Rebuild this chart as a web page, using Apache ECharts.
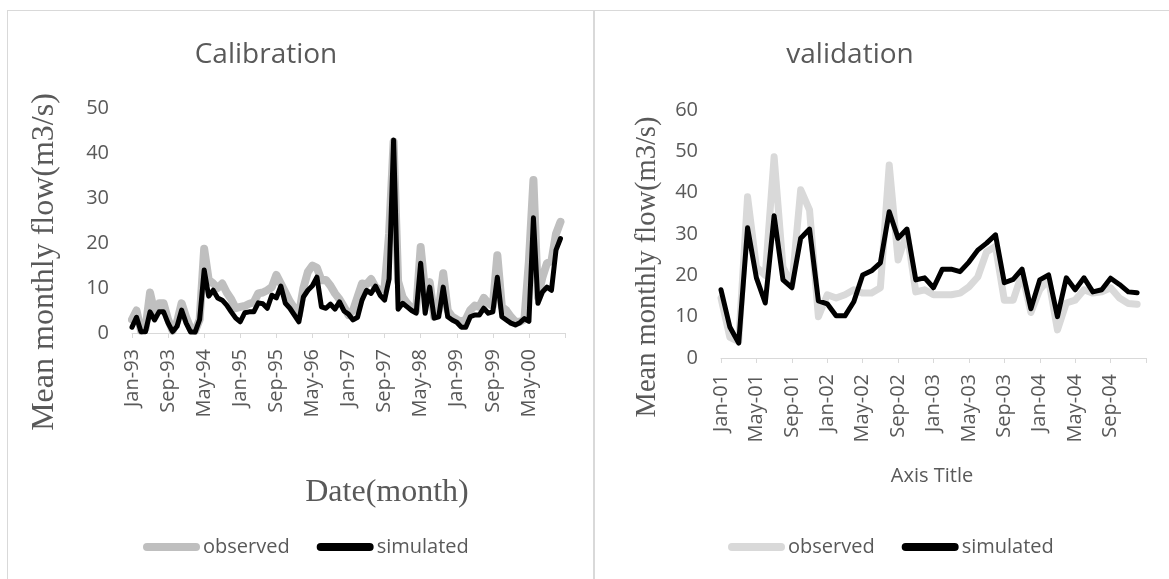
<!DOCTYPE html>
<html>
<head>
<meta charset="utf-8">
<script src="https://cdn.jsdelivr.net/npm/echarts@6/dist/echarts.min.js"></script>
<style>
html,body{margin:0;padding:0;background:#fff;width:1169px;height:579px;overflow:hidden;}
#frameL{position:absolute;left:7px;top:10px;width:585px;height:600px;border-left:1px solid #d9d9d9;border-top:1px solid #d9d9d9;border-right:1px solid #d9d9d9;}
#frameR{position:absolute;left:594px;top:10px;width:600px;height:600px;border-left:1px solid #d9d9d9;border-top:1px solid #d9d9d9;}
#chartL{position:absolute;left:0;top:0;width:593px;height:579px;}
#chartR{position:absolute;left:593px;top:0;width:576px;height:579px;}
</style>
</head>
<body>
<div id="frameL"></div>
<div id="frameR"></div>
<div id="chartL"></div>
<div id="chartR"></div>
<script>
// ---- data ----
const monthNames = ['Jan','Feb','Mar','Apr','May','Jun','Jul','Aug','Sep','Oct','Nov','Dec'];
function monthLabels(startYear, count) {
  const out = [];
  for (let i = 0; i < count; i++) {
    const y = startYear + Math.floor(i / 12);
    out.push(monthNames[i % 12] + '-' + String(y % 100).padStart(2, '0'));
  }
  return out;
}
// calibration: Jan-93 .. Dec-00 (axis runs to Jan-01)
const calCategories = monthLabels(1993, 97);
const calObserved = [3,5,0.5,1,9,4.5,6.6,6.6,3,0.5,2.5,6.6,3.5,1,0.5,3,18.7,11.8,11,10,11,9,7.5,5.5,5.8,6,6.5,6.8,8.8,9,9.5,10.2,12.9,11,9,7,5.5,4,10,13.6,15,14.5,11.7,11.8,10.5,8.8,7.5,5.8,4,5,8,11,10.8,12,10.2,9.5,10,22,42.5,11.5,8,6.6,5.5,5,19.1,9,11.3,3.6,5,13.3,5,3.6,3,2.5,3,5.1,6.1,5.8,7.8,6.6,6,17.3,5.8,5,3.6,2.5,2.5,3,16,34,8,12.4,15.5,16,22,24.7];
const calSimulated = [1.3,3.5,0.3,0.3,4.7,2.9,4.7,4.7,2.2,0.3,1.5,5.1,2.2,0.2,0.2,3,14,8.2,9.5,7.8,7.3,6.2,4.7,3.3,2.5,4.5,4.7,4.7,6.7,6.5,5.5,8.4,7.8,10.4,6.6,5.5,4,2.5,8,9.5,10.5,12.4,5.8,5.5,6.4,5.3,6.9,4.9,4.2,2.9,3.5,7.3,9.5,8.8,10.4,8.4,7.3,12,42.9,5.3,6.6,5.8,5.0,4.4,15.5,4.4,10.2,3.3,3.6,10.2,3.6,2.9,2.4,1.3,1.3,3.6,4,4,5.5,4.4,4.7,12.4,3.6,2.9,2.2,1.8,2.3,3.2,2.6,25.6,6.6,9.1,10.2,9.5,18.4,21];
// validation: Jan-01 .. Dec-04 (axis runs to Jan-05)
const valCategories = monthLabels(2001, 49);
const valObserved = [14.5,5,4,39,22,20,48.7,22,17.5,40.7,35.8,10,15.3,14.5,15.3,16.5,15.7,15.7,17,46.7,23.7,30.5,16,16.5,15.3,15.3,15.3,15.7,17.2,19.6,25.7,27,14,14,20.5,11,16.5,19,6.8,13.3,14,16.5,15.7,16,17,14.5,13.2,13];
const valSimulated = [16.5,7.5,3.6,31.5,19.4,13.3,34.4,18.9,17,29,31.2,13.8,13.1,10.2,10.2,13.6,20.1,21.1,23,35.4,29,31.2,18.9,19.4,17,21.5,21.5,20.9,23.2,26.1,27.8,29.8,18.2,19,21.5,11.9,18.9,20.1,10,19.4,16.5,19.4,16,16.5,19.3,17.8,16,15.8];
const calYTicks = {min:0, max:50, interval:10};
const valYTicks = {min:0, max:60, interval:10};

// ---- styling ----
const TXT = '#595959';
const SANS = 'Open Sans';
const SERIF = 'Liberation Serif';
const pill = 'path://M4,0 L53,0 A4,4 0 0 1 53,8 L4,8 A4,4 0 0 1 4,0 Z';

function buildOption(cfg) {
  return {
    animation: false,
    grid: cfg.grid,
    xAxis: {
      type: 'category', boundaryGap: false, data: cfg.categories,
      axisLine: {lineStyle: {color: '#d9d9d9', width: 1}},
      axisTick: {show: true, interval: cfg.step - 1, length: 5, lineStyle: {color: '#d9d9d9'}},
      axisLabel: {interval: cfg.step - 1, rotate: 90, margin: 16, color: TXT, fontSize: 20, fontFamily: SANS,
        formatter: (v, i) => (i === cfg.categories.length - 1 ? '' : v)},
      splitLine: {show: false}
    },
    yAxis: {
      type: 'value', min: cfg.yt.min, max: cfg.yt.max, interval: cfg.yt.interval,
      axisLine: {show: false}, axisTick: {show: false}, splitLine: {show: false},
      axisLabel: {margin: 23, color: TXT, fontSize: 20, fontFamily: SANS}
    },
    legend: {
      left: cfg.legendLeft, top: 532, itemWidth: 57, itemHeight: 8, itemGap: 27,
      textStyle: {color: TXT, fontSize: 20, fontFamily: SANS, padding: [0,0,0,-2]},
      selectedMode: false,
      data: [{name: 'observed', icon: pill}, {name: 'simulated', icon: pill}]
    },
    graphic: cfg.graphic,
    series: [
      {name: 'observed', type: 'line', data: cfg.obs, symbol: 'none', color: cfg.obsColor,
        lineStyle: {width: cfg.obsWidth, color: cfg.obsColor, join: 'round', cap: 'round'}, z: 2},
      {name: 'simulated', type: 'line', data: cfg.sim, symbol: 'none', color: '#000000',
        lineStyle: {width: 5, color: '#000000', join: 'round', cap: 'round'}, z: 3}
    ]
  };
}

const chartL = echarts.init(document.getElementById('chartL'));
chartL.setOption(buildOption({
  grid: {left: 132, top: 108, width: 433, height: 225},
  categories: calCategories, step: 8, yt: calYTicks,
  obs: calObserved, sim: calSimulated, obsColor: '#bfbfbf', obsWidth: 8,
  legendLeft: 138,
  graphic: [
    {type: 'text', x: 266, y: 55, style: {text: 'Calibration', fontSize: 28, fontFamily: SANS, fill: TXT, align: 'center', verticalAlign: 'middle'}},
    {type: 'text', x: 45, y: 262, rotation: Math.PI / 2, style: {text: 'Mean monthly flow(m3/s)', fontSize: 32, fontFamily: SERIF, fill: TXT, align: 'center', verticalAlign: 'middle'}},
    {type: 'text', x: 387, y: 493, style: {text: 'Date(month)', fontSize: 32, fontFamily: SERIF, fill: TXT, align: 'center', verticalAlign: 'middle'}}
  ]
}));

const chartR = echarts.init(document.getElementById('chartR'));
chartR.setOption(buildOption({
  grid: {left: 128, top: 110, width: 425, height: 248},
  categories: valCategories, step: 4, yt: valYTicks,
  obs: valObserved, sim: valSimulated, obsColor: '#d9d9d9', obsWidth: 7,
  legendLeft: 130,
  graphic: [
    {type: 'text', x: 257, y: 55, style: {text: 'validation', fontSize: 28, fontFamily: SANS, fill: TXT, align: 'center', verticalAlign: 'middle'}},
    {type: 'text', x: 55, y: 267, rotation: Math.PI / 2, style: {text: 'Mean monthly flow(m3/s)', fontSize: 28.5, fontFamily: SERIF, fill: TXT, align: 'center', verticalAlign: 'middle'}},
    {type: 'text', x: 339, y: 476, style: {text: 'Axis Title', fontSize: 20, fontFamily: SANS, fill: TXT, align: 'center', verticalAlign: 'middle'}}
  ]
}));
</script>
</body>
</html>
